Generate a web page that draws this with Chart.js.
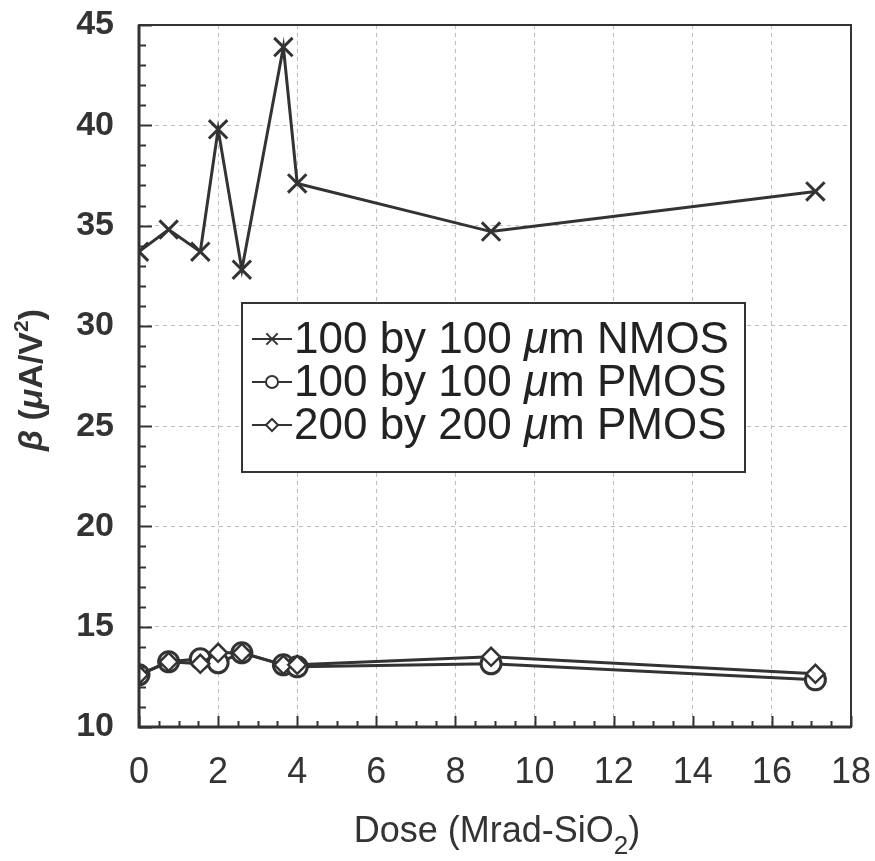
<!DOCTYPE html>
<html>
<head>
<meta charset="utf-8">
<script src="https://cdn.jsdelivr.net/npm/chart.js@4/dist/chart.umd.min.js"></script>
<style>
  html, body { margin: 0; padding: 0; background: #fff; }
  #wrap { width: 875px; height: 861px; }
</style>
</head>
<body>
<div id="wrap"><canvas id="chart" width="875" height="861"></canvas></div>
<script>
'use strict';

// dose in Mrad(SiO2)
var dose = [0, 0.75, 1.55, 2, 2.6, 3.65, 4, 8.9, 17.1]
var nmos100 = [33.7, 34.8, 33.7, 39.8, 32.8, 43.9, 37.1, 34.7, 36.7]
var pmos100 = [12.6, 13.25, 13.4, 13.2, 13.7, 13.1, 13.0, 13.15, 12.35]
var pmos200 = [12.6, 13.25, 13.15, 13.7, 13.7, 13.1, 13.1, 13.5, 12.65]

var seriesLabels = ['100 by 100 μm NMOS', '100 by 100 μm PMOS', '200 by 200 μm PMOS']
var xTicks = [0, 2, 4, 6, 8, 10, 12, 14, 16, 18]
var yTicks = [10, 15, 20, 25, 30, 35, 40, 45]

var ink = '#333'
var FONT = "'Liberation Sans', Arial, sans-serif"

function pts(ys) {
    return dose.map(function (d, i) { return { x: d, y: ys[i] } })
}

// draw a run of text pieces (some italic / shifted) starting at x
function drawParts(ctx, parts, x, y, align) {
    var total = 0
    parts.forEach(function (p) { ctx.font = p.font; total += ctx.measureText(p.t).width })
    if (align == 'center') x -= total / 2
    parts.forEach(function (p) {
        ctx.font = p.font
        ctx.fillText(p.t, x, y + (p.dy || 0))
        x += ctx.measureText(p.t).width
    })
}

function labelParts(label, font, italicFont) {
    var out = []
    var bits = label.split('μ')
    bits.forEach(function (b, i) {
        if (i > 0) out.push({ t: 'μ', font: italicFont })
        if (b) out.push({ t: b, font: font })
    })
    return out
}

var decorPlugin = {
    id: 'decor',
    afterDatasetsDraw: function (chart) {
        var ctx = chart.ctx
        var a = chart.chartArea
        var xs = chart.scales.x
        var ys = chart.scales.y
        ctx.save()
        ctx.strokeStyle = ink
        ctx.fillStyle = ink

        // inward ticks on bottom axis
        ctx.lineWidth = 2
        for (var v = 0; v <= 18.001; v += 0.5) {
            var px = Math.round(xs.getPixelForValue(v)) + 0.5
            var len = (Math.abs(v % 2) < 0.01) ? 11 : 6
            ctx.beginPath()
            ctx.moveTo(px, a.bottom)
            ctx.lineTo(px, a.bottom - len)
            ctx.stroke()
        }
        // inward ticks on left axis
        for (var w = 10; w <= 45; w += 1) {
            var py = Math.round(ys.getPixelForValue(w)) + 0.5
            var l2 = (w % 5 == 0) ? 13 : 7
            ctx.beginPath()
            ctx.moveTo(a.left, py)
            ctx.lineTo(a.left + l2, py)
            ctx.stroke()
        }

        // frame
        ctx.lineWidth = 2
        ctx.strokeRect(a.left, a.top, a.right - a.left, a.bottom - a.top)
        ctx.lineWidth = 3
        ctx.beginPath()
        ctx.moveTo(a.left, a.top)
        ctx.lineTo(a.left, a.bottom)
        ctx.lineTo(a.right, a.bottom)
        ctx.stroke()

        // legend box
        var bx = 242, by = 303, bw = 503, bh = 169
        ctx.fillStyle = '#fff'
        ctx.fillRect(bx, by, bw, bh)
        ctx.lineWidth = 2
        ctx.strokeRect(bx, by, bw, bh)

        var font = '44px ' + FONT
        var ifont = 'italic 44px ' + FONT
        ctx.textBaseline = 'middle'
        chart.data.datasets.forEach(function (ds, i) {
            var cy = 339 + i * 43
            ctx.strokeStyle = ink
            ctx.lineWidth = 2
            ctx.beginPath()
            ctx.moveTo(252, cy)
            ctx.lineTo(292, cy)
            ctx.stroke()
            ctx.fillStyle = '#fff'
            Chart.helpers.drawPoint(ctx, {
                pointStyle: ds.pointStyle, radius: ds.pointStyle == 'crossRot' ? 8 : 6,
                borderWidth: 2, rotation: 0
            }, 272, cy)
            ctx.fillStyle = '#222'
            drawParts(ctx, labelParts(ds.label, font, ifont), 294, cy + 2, 'left')
        })

        // axis titles
        ctx.fillStyle = '#333'
        ctx.textBaseline = 'alphabetic'
        var tf = '36px ' + FONT
        var sf = '26px ' + FONT
        drawParts(ctx, [
            { t: 'Dose (Mrad-SiO', font: tf },
            { t: '2', font: sf, dy: 12 },
            { t: ')', font: tf }
        ], 497, 842, 'center')

        ctx.translate(42, 380)
        ctx.rotate(-Math.PI / 2)
        var bf = 'bold 34px ' + FONT
        var bif = 'italic bold 34px ' + FONT
        drawParts(ctx, [
            { t: 'β', font: bif },
            { t: ' (', font: bf },
            { t: 'μ', font: bif },
            { t: 'A/V', font: bf },
            { t: '2', font: 'bold 21px ' + FONT, dy: -14 },
            { t: ')', font: bf }
        ], 0, 0, 'center')
        ctx.restore()
    }
}

var ctx = document.getElementById('chart').getContext('2d')
new Chart(ctx, {
    type: 'scatter',
    data: {
        datasets: [{
            label: seriesLabels[0],
            data: pts(nmos100),
            showLine: true,
            borderColor: ink,
            backgroundColor: ink,
            borderWidth: 3,
            pointStyle: 'crossRot',
            pointRadius: 13,
            pointBorderWidth: 3,
            order: 2
        }, {
            label: seriesLabels[1],
            data: pts(pmos100),
            showLine: true,
            borderColor: ink,
            backgroundColor: '#fff',
            borderWidth: 3,
            pointStyle: 'circle',
            pointRadius: 10,
            pointBorderWidth: 3,
            order: 1
        }, {
            label: seriesLabels[2],
            data: pts(pmos200),
            showLine: true,
            borderColor: ink,
            backgroundColor: '#fff',
            borderWidth: 3,
            pointStyle: 'rectRot',
            pointRadius: 9,
            pointBorderWidth: 2.5,
            order: 0
        }]
    },
    options: {
        responsive: false,
        animation: false,
        events: [],
        layout: {
            padding: { top: 25, right: 24, left: 0, bottom: 0 }
        },
        plugins: {
            legend: { display: false },
            tooltip: { enabled: false }
        },
        scales: {
            x: {
                type: 'linear',
                min: 0,
                max: 18,
                afterFit: function (s) {
                    s.height = 134
                    s.paddingLeft = 0
                    s.paddingRight = 0
                },
                afterBuildTicks: function (s) { s.ticks = xTicks.map(function (v) { return { value: v } }) },
                ticks: {
                    color: '#333',
                    padding: 24,
                    font: { family: FONT, size: 36 },
                    maxRotation: 0
                },
                grid: { color: '#bdbdbd', lineWidth: 1, drawTicks: false },
                border: { display: false, dash: [4, 4] }
            },
            y: {
                type: 'linear',
                min: 10,
                max: 45,
                afterFit: function (s) {
                    s.width = 139
                    s.paddingTop = 0
                    s.paddingBottom = 0
                },
                afterBuildTicks: function (s) { s.ticks = yTicks.map(function (v) { return { value: v } }) },
                ticks: {
                    color: '#333',
                    padding: 25,
                    font: { family: FONT, size: 34, weight: 'bold' }
                },
                grid: { color: '#bdbdbd', lineWidth: 1, drawTicks: false },
                border: { display: false, dash: [4, 4] }
            }
        }
    },
    plugins: [decorPlugin]
});
</script>
</body>
</html>
